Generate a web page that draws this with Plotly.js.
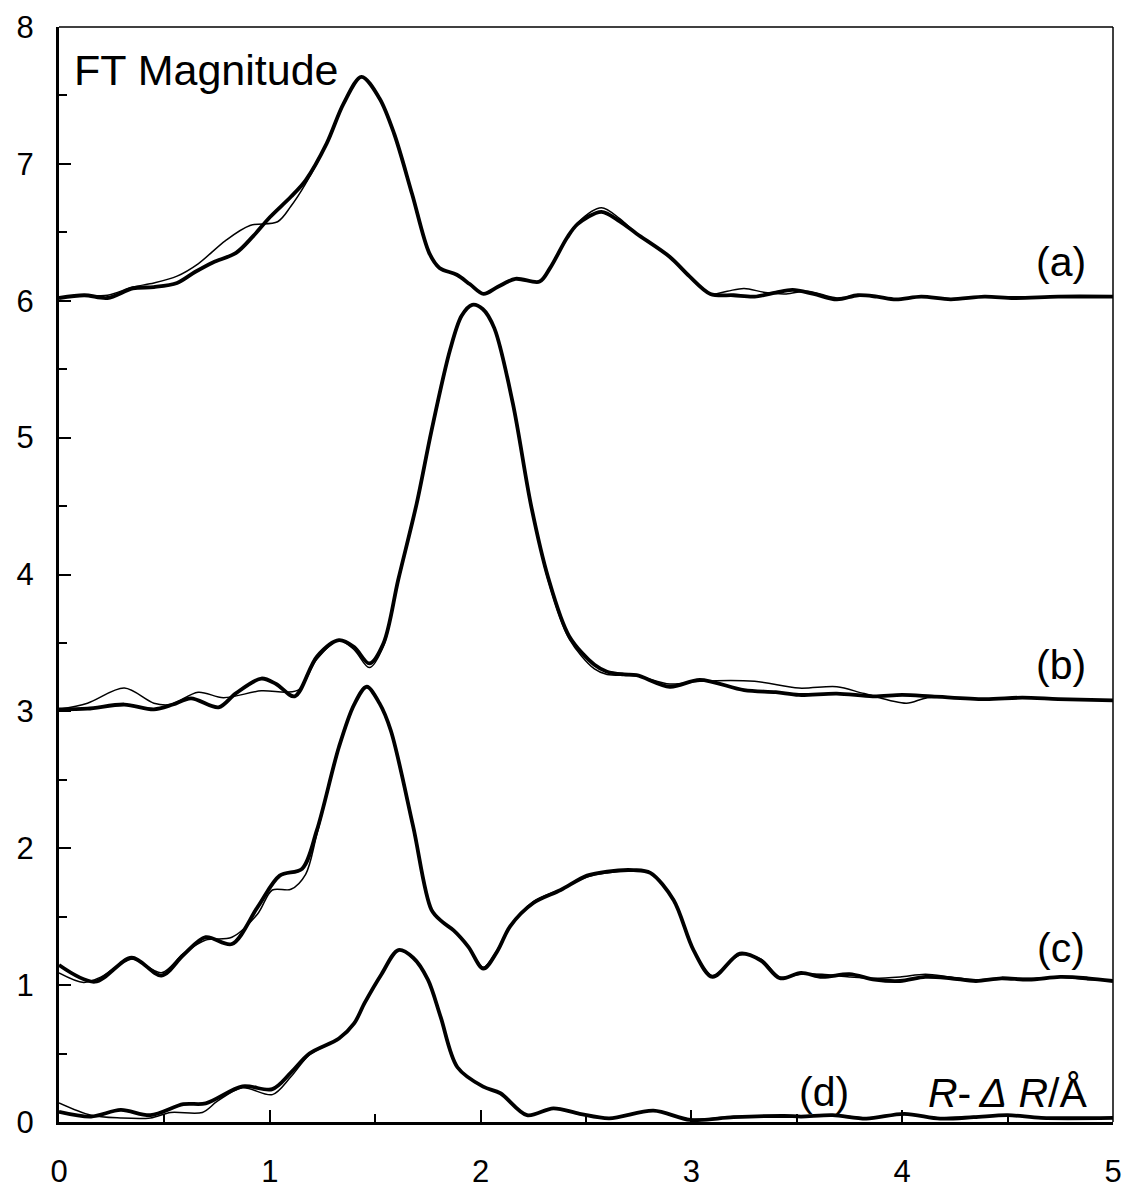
<!DOCTYPE html>
<html>
<head>
<meta charset="utf-8">
<script src="https://cdn.plot.ly/plotly-3.0.1.min.js"></script>
<style>html,body{margin:0;padding:0;background:#fff;}#chart{width:1129px;height:1189px;}</style>
</head>
<body>
<div id="chart"></div>
<script>
// ---- data (R-ΔR in Å, FT magnitude with vertical offsets) ----
var aThickX = [0,0.12,0.23,0.35,0.45,0.56,0.645,0.73,0.84,0.92,1.0,1.10,1.17,1.27,1.35,1.435,1.52,1.59,1.675,1.756,1.805,1.887,1.95,2.014,2.08,2.165,2.28,2.33,2.41,2.46,2.573,2.66,2.74,2.898,2.99,3.09,3.20,3.30,3.40,3.48,3.58,3.69,3.79,3.88,3.97,4.09,4.23,4.39,4.53,4.74,5.0];
var aThickY = [6.02,6.04,6.02,6.09,6.10,6.13,6.21,6.28,6.35,6.47,6.61,6.76,6.88,7.15,7.44,7.636,7.48,7.22,6.78,6.35,6.24,6.19,6.12,6.05,6.10,6.16,6.14,6.24,6.46,6.56,6.65,6.58,6.49,6.32,6.18,6.05,6.04,6.03,6.06,6.08,6.05,6.01,6.04,6.03,6.01,6.03,6.01,6.03,6.02,6.03,6.03];
var aThinX = [0,0.12,0.23,0.35,0.45,0.56,0.66,0.79,0.906,1.037,1.10,1.168,1.27,1.35,1.435,1.52,1.59,1.675,1.756,1.805,1.887,1.95,2.014,2.08,2.165,2.28,2.33,2.41,2.46,2.573,2.66,2.74,2.898,2.99,3.09,3.17,3.25,3.35,3.45,3.55,3.69,3.79,3.88,3.97,4.09,4.23,4.39,4.53,4.74,5.0];
var aThinY = [6.02,6.04,6.04,6.10,6.13,6.18,6.27,6.44,6.55,6.577,6.69,6.85,7.15,7.44,7.636,7.48,7.22,6.78,6.35,6.24,6.19,6.12,6.05,6.10,6.16,6.14,6.24,6.46,6.57,6.68,6.60,6.49,6.32,6.18,6.05,6.07,6.09,6.06,6.05,6.07,6.02,6.04,6.03,6.01,6.03,6.01,6.03,6.02,6.03,6.03];

var bThickX = [0,0.135,0.31,0.45,0.54,0.626,0.757,0.837,0.96,1.03,1.118,1.223,1.328,1.40,1.472,1.54,1.609,1.697,1.767,1.855,1.91,1.96,2.01,2.065,2.153,2.24,2.32,2.42,2.54,2.60,2.68,2.74,2.898,3.04,3.25,3.40,3.51,3.69,3.86,4.00,4.14,4.39,4.57,4.74,5.0];
var bThickY = [3.015,3.02,3.05,3.015,3.05,3.095,3.03,3.13,3.24,3.20,3.11,3.40,3.52,3.47,3.35,3.50,3.96,4.52,5.05,5.64,5.89,5.97,5.94,5.80,5.25,4.50,3.98,3.55,3.34,3.29,3.27,3.265,3.18,3.23,3.155,3.14,3.12,3.13,3.11,3.12,3.11,3.09,3.10,3.09,3.08];
var bThinX = [0,0.135,0.31,0.45,0.53,0.66,0.78,0.96,1.08,1.14,1.223,1.328,1.40,1.472,1.54,1.609,1.697,1.767,1.855,1.91,1.96,2.01,2.065,2.153,2.24,2.32,2.42,2.54,2.60,2.74,2.898,3.04,3.30,3.51,3.69,3.82,4.02,4.12,4.39,4.57,4.74,5.0];
var bThinY = [3.015,3.06,3.17,3.06,3.05,3.14,3.10,3.15,3.14,3.16,3.38,3.52,3.45,3.32,3.48,3.96,4.52,5.05,5.64,5.89,5.97,5.94,5.80,5.25,4.50,3.96,3.53,3.31,3.27,3.26,3.20,3.22,3.22,3.17,3.18,3.13,3.06,3.10,3.09,3.10,3.09,3.08];

var cThickX = [0,0.17,0.345,0.486,0.59,0.696,0.82,0.942,1.047,1.153,1.223,1.328,1.40,1.46,1.52,1.574,1.68,1.767,1.82,1.872,1.942,2.013,2.08,2.14,2.25,2.38,2.505,2.60,2.726,2.805,2.916,3.01,3.10,3.23,3.33,3.42,3.52,3.62,3.75,3.87,3.99,4.11,4.23,4.35,4.47,4.60,4.75,4.88,5.0];
var cThickY = [1.147,1.025,1.20,1.07,1.22,1.35,1.30,1.57,1.80,1.85,2.13,2.74,3.05,3.18,3.06,2.86,2.16,1.55,1.46,1.40,1.28,1.12,1.25,1.43,1.60,1.695,1.80,1.83,1.84,1.82,1.62,1.256,1.06,1.23,1.18,1.05,1.09,1.06,1.08,1.04,1.03,1.06,1.05,1.03,1.05,1.04,1.06,1.05,1.03];
var cThinX = [0,0.117,0.20,0.345,0.486,0.59,0.696,0.82,0.942,1.012,1.10,1.17,1.223,1.328,1.40,1.46,1.52,1.574,1.68,1.767,1.82,1.872,1.942,2.013,2.08,2.14,2.25,2.38,2.505,2.60,2.726,2.805,2.916,3.01,3.10,3.23,3.33,3.42,3.52,3.62,3.75,3.87,3.99,4.11,4.23,4.35,4.47,4.60,4.75,4.88,5.0];
var cThinY = [1.09,1.02,1.06,1.19,1.09,1.23,1.33,1.35,1.52,1.695,1.70,1.81,2.10,2.74,3.05,3.18,3.06,2.86,2.16,1.55,1.46,1.40,1.28,1.13,1.26,1.43,1.61,1.70,1.79,1.82,1.84,1.82,1.62,1.256,1.07,1.22,1.19,1.06,1.08,1.08,1.06,1.05,1.06,1.08,1.06,1.04,1.05,1.05,1.06,1.04,1.04];

var dThickX = [0,0.152,0.293,0.434,0.59,0.696,0.87,1.012,1.10,1.188,1.328,1.40,1.45,1.53,1.61,1.68,1.75,1.81,1.89,2.012,2.094,2.22,2.345,2.47,2.61,2.82,2.995,3.20,3.44,3.52,3.67,3.83,4.01,4.18,4.34,4.50,4.66,5.0];
var dThickY = [0.075,0.04,0.088,0.05,0.13,0.136,0.26,0.24,0.36,0.50,0.61,0.72,0.87,1.08,1.256,1.20,1.04,0.77,0.40,0.258,0.21,0.05,0.10,0.06,0.027,0.083,0.015,0.035,0.045,0.04,0.05,0.025,0.06,0.025,0.035,0.05,0.03,0.03];
var dThinX = [0,0.152,0.293,0.434,0.53,0.68,0.75,0.87,1.012,1.10,1.188,1.328,1.40,1.45,1.53,1.61,1.68,1.75,1.81,1.89,2.012,2.094,2.22,2.345,2.47,2.61,2.82,2.995,3.20,3.44,3.67,3.83,4.01,4.18,4.34,4.50,4.66,5.0];
var dThinY = [0.14,0.05,0.03,0.03,0.07,0.07,0.15,0.25,0.20,0.33,0.49,0.61,0.72,0.87,1.08,1.256,1.20,1.04,0.77,0.40,0.26,0.21,0.05,0.10,0.06,0.027,0.08,0.02,0.04,0.035,0.05,0.03,0.055,0.03,0.04,0.05,0.03,0.03];

var xTicks = [0,1,2,3,4,5];
var yTicks = [0,1,2,3,4,5,6,7,8];
var curveLabels = ["(a)","(b)","(c)","(d)"];
var labelX = [4.755,4.755,4.755,3.63];
var labelY = [6.28,3.34,1.27,0.22];

var FONT = "Liberation Sans, Arial, Helvetica, sans-serif";

function thick(x,y){return {x:x,y:y,type:"scatter",mode:"lines",line:{color:"#000",width:3.8,shape:"spline",smoothing:0.9},hoverinfo:"skip",showlegend:false};}
function thin(x,y){return {x:x,y:y,type:"scatter",mode:"lines",line:{color:"#000",width:1.5,shape:"spline",smoothing:0.9},hoverinfo:"skip",showlegend:false};}

var traces = [
  thin(aThinX,aThinY), thick(aThickX,aThickY),
  thin(bThinX,bThinY), thick(bThickX,bThickY),
  thin(cThinX,cThinY), thick(cThickX,cThickY),
  thin(dThinX,dThinY), thick(dThickX,dThickY)
];

var annotations = curveLabels.map(function(t,i){
  return {text:t,x:labelX[i],y:labelY[i],xref:"x",yref:"y",showarrow:false,xanchor:"center",yanchor:"middle",font:{family:FONT,size:41,color:"#000"}};
});
annotations.push({text:"FT Magnitude",x:0.012,y:0.961,xref:"paper",yref:"paper",showarrow:false,xanchor:"left",yanchor:"middle",font:{family:FONT,size:43,color:"#000"}});
annotations.push({text:"<i>R</i>-\u2009<i>Δ</i> <i>R</i>/Å",x:4.50,y:0.215,xref:"x",yref:"y",showarrow:false,xanchor:"center",yanchor:"middle",font:{family:FONT,size:41,color:"#000"}});

var layout = {
  width:1129,height:1189,
  margin:{l:59,r:16,t:27,b:67,pad:0},
  paper_bgcolor:"#fff",plot_bgcolor:"#fff",
  showlegend:false,
  xaxis:{range:[0,5],tickvals:xTicks,ticktext:xTicks.map(String),ticks:"inside",ticklen:12,tickwidth:2,tickcolor:"#000",
    showline:true,linecolor:"#000",linewidth:3,showgrid:false,zeroline:false,
    minor:{ticks:"inside",ticklen:8,tickwidth:2,tickcolor:"#000",dtick:0.5,showgrid:false},
    tickfont:{family:FONT,size:31,color:"#000"},ticklabelstandoff:20,fixedrange:true},
  yaxis:{range:[0,8],tickvals:yTicks,ticktext:yTicks.map(String),ticks:"inside",ticklen:12,tickwidth:2,tickcolor:"#000",
    showline:true,linecolor:"#000",linewidth:3,showgrid:false,zeroline:false,
    minor:{ticks:"inside",ticklen:8,tickwidth:2,tickcolor:"#000",dtick:0.5,showgrid:false},
    tickfont:{family:FONT,size:31,color:"#000"},ticklabelstandoff:16,fixedrange:true},
  shapes:[
    {type:"line",xref:"paper",yref:"paper",x0:0,x1:1,y0:1,y1:1,line:{color:"#000",width:1.5}},
    {type:"line",xref:"paper",yref:"paper",x0:1,x1:1,y0:0,y1:1,line:{color:"#000",width:1.5}}
  ],
  annotations:annotations
};

Plotly.newPlot("chart",traces,layout,{displayModeBar:false,staticPlot:true});
</script>
</body>
</html>
